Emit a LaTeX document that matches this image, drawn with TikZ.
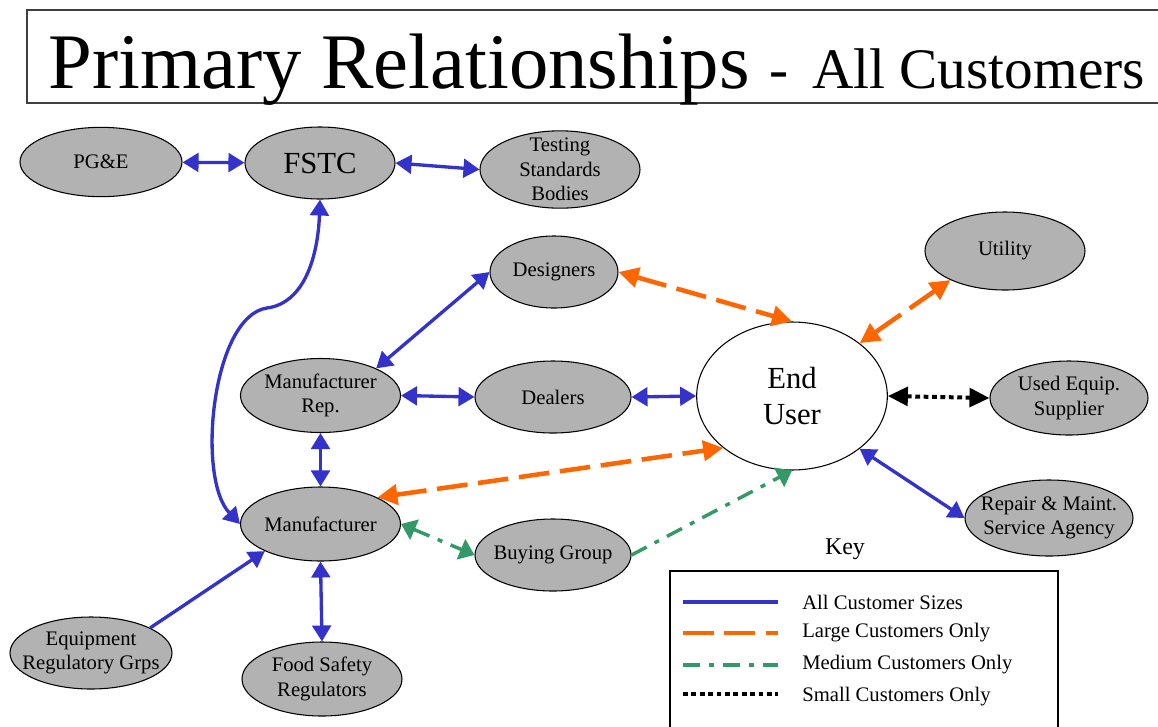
\documentclass[tikz,border=0pt]{standalone}
\usepackage{fontspec}
\setmainfont{Liberation Serif}
\usetikzlibrary{shapes.geometric,arrows.meta}
\definecolor{cblue}{RGB}{51,51,204}
\definecolor{corange}{RGB}{255,102,0}
\definecolor{cgreen}{RGB}{51,153,102}
\definecolor{nodegray}{RGB}{178,178,178}

\begin{document}
\begin{tikzpicture}[x=0.75pt,y=0.75pt,yscale=-1,xscale=1,
    blob/.style={ellipse, draw=black, line width=0.8pt, fill=nodegray, inner sep=0pt},
    lbl/.style={align=center, inner sep=0.75pt, font=\fontsize{15.5}{18.5}\selectfont},
    biglbl/.style={align=center, inner sep=0.75pt, font=\fontsize{23}{27.5}\selectfont},
    keytxt/.style={anchor=west, inner sep=0.75pt, font=\fontsize{15.5}{18}\selectfont},
    allsize/.style={draw=cblue, line width=2.5pt, >={Triangle[length=12pt,width=14pt]}},
    largeonly/.style={draw=corange, line width=3.4pt, dash pattern=on 23pt off 8pt, >={Triangle[length=15pt,width=15pt]}},
    mediumonly/.style={draw=cgreen, line width=2.6pt, dash pattern=on 12.75pt off 6.75pt on 3.75pt off 6.75pt, >={Triangle[length=11pt,width=16pt]}},
    smallonly/.style={draw=black, line width=3pt, dash pattern=on 3.6pt off 2.7pt, >={Triangle[length=15pt,width=14pt]}}]
\useasboundingbox (0,0) rectangle (1158,726);

% Title
\draw [black!75, line width=1.1pt] (27,10) rectangle (1175,103);
\node [anchor=base west, inner sep=0pt] (title) at (48,88) {\fontsize{59}{61}\selectfont Primary Relationships \fontsize{43}{45}\selectfont -\hspace{7pt} All Customers};

% Ellipse Nodes
\node [blob, minimum width=121.5pt, minimum height=52pt] (pge) at (101,162) {};
\node [lbl] (pgeT) at (pge) {PG\&E};
\node [blob, minimum width=112.5pt, minimum height=54pt] (fstc) at (320,163) {};
\node [biglbl] (fstcT) at (fstc) {FSTC};
\node [blob, minimum width=120pt, minimum height=58pt] (test) at (560,169.5) {};
\node [lbl] (testT) at (test) {Testing\\Standards\\Bodies};
\node [blob, minimum width=96pt, minimum height=54pt] (des) at (554,272) {};
\node [lbl] (desT) at (des) {Designers};
\node [blob, minimum width=120pt, minimum height=58.5pt] (util) at (1005,251) {};
\node [lbl] (utilT) at (util) {Utility};
\node [ellipse, draw=black, line width=0.8pt, fill=white, inner sep=0pt, minimum width=143pt, minimum height=111pt] (eu) at (792,396) {};
\node [biglbl] (euT) at (eu) {End\\User};
\node [blob, minimum width=120pt, minimum height=55.5pt] (rep) at (320.5,395.5) {};
\node [lbl] (repT) at (rep) {Manufacturer\\Rep.};
\node [blob, minimum width=117pt, minimum height=54pt] (deal) at (553,397) {};
\node [lbl] (dealT) at (deal) {Dealers};
\node [blob, minimum width=120pt, minimum height=55.5pt] (mfr) at (320.5,524) {};
\node [lbl] (mfrT) at (mfr) {Manufacturer};
\node [blob, minimum width=117pt, minimum height=54pt] (bg) at (553,555) {};
\node [lbl] (bgT) at (bg) {Buying Group};
\node [blob, minimum width=121.5pt, minimum height=54pt] (equip) at (91,653) {};
\node [lbl] (equipT) at (equip) {Equipment\\Regulatory Grps};
\node [blob, minimum width=120pt, minimum height=55.5pt] (food) at (322,679) {};
\node [lbl] (foodT) at (food) {Food Safety\\Regulators};
\node [blob, minimum width=118.5pt, minimum height=55.5pt] (used) at (1069,398) {};
\node [lbl] (usedT) at (used) {Used Equip.\\Supplier};
\node [blob, minimum width=126pt, minimum height=57pt] (repair) at (1049,518) {};
\node [lbl] (repairT) at (repair) {Repair \& Maint.\\Service Agency};

% Connection
\draw [allsize,<->] (pge) -- (fstc);
\draw [allsize,<->] (fstc.east) -- (test.west);
\coordinate (kink) at (267,308);
\draw [allsize,<->] (fstc.south) .. controls (318,255) and (305,303) .. (kink) .. controls (212,316) and (196,478) .. (mfr.west);
\draw [allsize,<->] (des.west) -- (rep.26);
\draw [allsize,<->] (rep.east) -- (deal.west);
\draw [allsize,<->] (deal.east) -- (eu.west);
\draw [allsize,<->] (rep.south) -- (mfr.north);
\draw [allsize,<->] (mfr.south) -- (food.north);
\draw [allsize,->] (equip.23) -- (mfr.206);
\draw [allsize,<->] (eu.-38) -- (repair.west);
% Connection
\draw [largeonly,<->] (des.east) -- (eu.north);
\draw [largeonly,<->] (util.208) -- (eu.38);
\draw [largeonly,<->] (mfr.25) -- (eu.217);
% Connection
\draw [mediumonly,<->] (mfr.east) -- (bg.west);
\draw [mediumonly,->] (bg.east) -- (eu.south);
% Connection
\draw [smallonly,<->] (eu.east) -- (used.west);

% Key
\node [inner sep=0.75pt, font=\fontsize{18}{20}\selectfont] (key) at (845,549) {Key};
\draw [black, line width=0.9pt] (670,571) rectangle (1058,740);
\coordinate (k1a) at (683,602); \coordinate (k1b) at (778,602);
\coordinate (k2a) at (683,633); \coordinate (k2b) at (778,633);
\coordinate (k3a) at (683,665); \coordinate (k3b) at (778,665);
\coordinate (k4a) at (683,694); \coordinate (k4b) at (778,694);
\draw [allsize] (k1a) -- (k1b);
\draw [largeonly] (k2a) -- (k2b);
\draw [mediumonly] (k3a) -- (k3b);
\draw [smallonly] (k4a) -- (k4b);
\node [keytxt] (k1) at (801,602) {All Customer Sizes};
\node [keytxt] (k2) at (801,633) {Large Customers Only};
\node [keytxt] (k3) at (801,665) {Medium Customers Only};
\node [keytxt] (k4) at (801,697) {Small Customers Only};
\end{tikzpicture}
\end{document}
